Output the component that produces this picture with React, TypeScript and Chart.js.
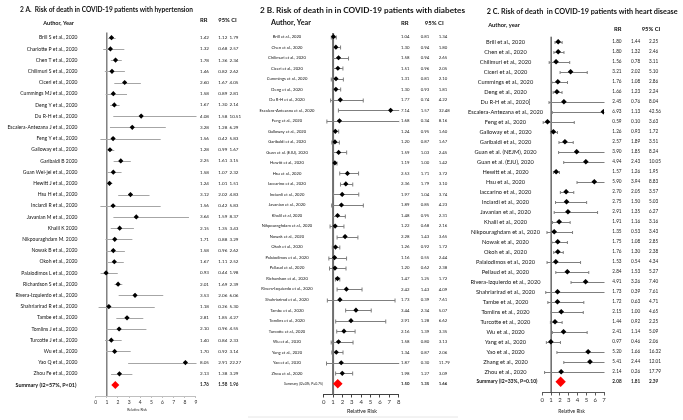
import React, { useEffect, useRef } from "react";
import { Chart, registerables } from "chart.js";
Chart.register(...registerables);

const FONT = "Lato, 'Liberation Sans', sans-serif";

// ---------- Panel A: hypertension ----------
const titleA = "2 A.  Risk of death in COVID-19 patients with hypertension";
const authorsA = [
  "Brill S et al., 2020", "Charlotte P et al., 2020", "Chen T et al., 2020", "Chilimuri S et al., 2020",
  "Ciceri et al., 2020", "Cummings MJ et al., 2020", "Deng Y et al., 2020", "Du R-H et al., 2020",
  "Escalera-Antezana J et al., 2020", "Feng Y et al., 2020", "Galloway et al., 2020", "Garibaldi B 2020",
  "Guan Wei-jei et al., 2020", "Hewitt J et al., 2020", "Hsu H et al., 2020", "Inciardi R et al., 2020",
  "Javanian M et al., 2020", "Khalil K 2020", "Nikpouraghdam M. 2020", "Nowak B et al., 2020",
  "Okoh et al., 2020", "Palaiodimos L et al., 2020", "Richardson S et al., 2020", "Rivera-Izquierdo et al., 2020",
  "Shahriarirad R et al., 2020", "Tambe et al., 2020", "Tomlins J et al., 2020", "Turcotte J et al., 2020",
  "Wu et al., 2020", "Yao Q et al., 2020", "Zhou Fe et al., 2020",
];
const rrA = [1.42, 1.32, 1.78, 1.46, 2.60, 1.58, 1.67, 4.08, 3.28, 1.56, 1.28, 2.25, 1.58, 1.24, 3.12, 1.56, 3.64, 2.15, 1.71, 1.58, 1.67, 0.93, 2.01, 3.53, 1.18, 2.81, 2.10, 1.40, 1.70, 8.05, 2.13];
const lowA = [1.12, 0.68, 1.36, 0.82, 1.67, 0.89, 1.30, 1.58, 1.28, 0.42, 0.99, 1.61, 1.07, 1.01, 2.02, 0.42, 1.59, 1.35, 0.88, 0.96, 1.11, 0.44, 1.69, 2.06, 0.26, 1.85, 0.96, 0.84, 0.92, 2.91, 1.38];
const highA = [1.79, 2.57, 2.34, 2.62, 4.05, 2.81, 2.14, 10.51, 6.29, 5.83, 1.67, 3.15, 2.32, 1.51, 4.83, 5.83, 8.37, 3.43, 3.29, 2.62, 2.52, 1.98, 2.39, 6.06, 5.30, 4.27, 4.55, 2.33, 3.14, 22.27, 3.29];
const summaryA = [1.76, 1.58, 1.96];
const summaryLabelA = "Summary (I2=57%, P<01)";
const xMaxA = 9;

// ---------- Panel B: diabetes ----------
const titleB = "2 B. Risk of death in in COVID-19 patients with diabetes";
const authorsB = [
  "Brill et al., 2020", "Chen et al., 2020", "Chilimuri et al., 2020", "Ciceri et al., 2020",
  "Cummings et al., 2020", "Deng et al., 2020", "Du R-H et al., 2020", "Escalera-Antezana et al., 2020",
  "Feng et al., 2020", "Galloway et al., 2020", "Garibaldi et al., 2020", "Guan et al. (EJU), 2020",
  "Hewitt et al., 2020", "Hsu et al., 2020", "Iaccarino et al., 2020", "Inciardi et al., 2020",
  "Javanian et al., 2020", "Khalil et al, 2020", "Nikpouraghdam et al., 2020", "Nowak et al., 2020",
  "Okoh et al., 2020", "Palaiodimos et al., 2020", "Pellaud et al., 2020", "Richardson et al., 2020",
  "Rivera-Izquierdo et al., 2020", "Shahriarirad et al., 2020", "Tambe et al., 2020", "Tomlins et al., 2020",
  "Turcotte et al., 2020", "Wu et al., 2020", "Yang et al., 2020", "Yao et al., 2020", "Zhou et al., 2020",
];
const rrB = [1.04, 1.30, 1.58, 1.51, 1.31, 1.30, 1.77, 7.14, 1.68, 1.24, 1.20, 1.59, 1.19, 2.53, 2.36, 1.97, 1.89, 1.48, 1.22, 2.28, 1.26, 1.16, 1.20, 1.47, 2.42, 1.73, 3.44, 2.91, 2.16, 1.58, 1.34, 1.87, 1.98];
const lowB = [0.81, 0.94, 0.94, 0.96, 0.81, 0.93, 0.74, 1.57, 0.34, 0.95, 0.87, 1.03, 1.00, 1.71, 1.79, 1.04, 0.85, 0.95, 0.68, 1.43, 0.92, 0.55, 0.62, 1.25, 1.43, 0.39, 2.34, 1.28, 1.39, 0.80, 0.87, 0.30, 1.27];
const highB = [1.34, 1.80, 2.65, 2.05, 2.10, 1.81, 4.22, 32.48, 8.16, 1.60, 1.67, 2.45, 1.42, 3.72, 3.10, 3.74, 4.23, 2.31, 2.16, 3.65, 1.72, 2.44, 2.38, 1.72, 4.09, 7.61, 5.07, 6.62, 3.35, 3.13, 2.06, 11.79, 3.09];
const summaryB = [1.50, 1.35, 1.66];
const summaryLabelB = "Summary (I2=0%, P=0.75)";
const xMaxB = 8;

// ---------- Panel C: heart disease ----------
const titleC = "2 C. Risk of death  in COVID-19 patients with heart disease";
const authorsC = [
  "Brill et al., 2020", "Chen et al., 2020", "Chilimuri et al., 2020", "Ciceri et al., 2020",
  "Cummings et al., 2020", "Deng et al., 2020", "Du R-H et al., 2020]", "Escalera-Antezana et al., 2020",
  "Feng et al., 2020", "Galloway et al., 2020", "Garibaldi et al., 2020", "Guan et al. (NEJM), 2020",
  "Guan et al. (EJU), 2020", "Hewitt et al., 2020", "Hsu et al., 2020", "Iaccarino et al., 2020",
  "Inciardi et al., 2020", "Javanian et al., 2020", "Khalil et al., 2020", "Nikpouraghdam et al., 2020",
  "Nowak et al., 2020", "Okoh et al., 2020", "Palaiodimos et al., 2020", "Pellaud et al., 2020",
  "Rivera-Izquierdo et al., 2020", "Shahriarirad et al., 2020", "Tambe et al., 2020", "Tomlins et al., 2020",
  "Turcotte et al., 2020", "Wu et al., 2020", "Yang et al., 2020", "Yao et al., 2020", "Zhang et al., 2020",
  "Zhou et al., 2020",
];
const rrC = [1.80, 1.80, 1.56, 3.21, 1.76, 1.66, 2.45, 6.93, 0.59, 1.26, 2.57, 3.90, 4.94, 1.57, 5.90, 2.70, 2.75, 2.91, 1.91, 1.35, 1.75, 1.76, 1.53, 2.84, 4.91, 1.73, 1.72, 2.15, 1.44, 2.41, 0.97, 5.20, 5.41, 2.14];
const lowC = [1.44, 1.32, 0.78, 2.02, 1.08, 1.23, 0.76, 1.13, 0.10, 0.93, 1.89, 1.85, 2.43, 1.26, 3.94, 2.05, 1.50, 1.35, 1.16, 0.53, 1.08, 1.30, 0.54, 1.53, 3.26, 0.39, 0.63, 1.00, 0.92, 1.14, 0.46, 1.66, 2.44, 0.26];
const highC = [2.25, 2.46, 3.11, 5.10, 2.86, 2.24, 8.04, 42.56, 3.63, 1.72, 3.51, 8.24, 10.05, 1.95, 8.83, 3.57, 5.03, 6.27, 3.16, 3.43, 2.85, 2.38, 4.34, 5.27, 7.40, 7.61, 4.71, 4.65, 2.25, 5.09, 2.06, 16.32, 12.01, 17.79];
const summaryC = [2.08, 1.81, 2.39];
const summaryLabelC = "Summary (I2=33%, P=0.10)";
const xMaxC = 7;

const axisTitle = "Relative Risk";
const headerRR = "RR";
const headerCI = "95% CI";

type Panel = {
  title: string; authorHeader: string; authors: string[]; rr: number[]; low: number[]; high: number[];
  summary: number[]; summaryLabel: string; xMax: number;
};

type Layout = {
  plotLeft: number; plotRight: number; plotTop: number; row0Y: number; summaryY: number; axisY: number;
  titleX: number; titleY: number; titleW: number;
  headX: number; headY: number; headW: number;
  rrHeadX: number; ciHeadX: number; colHeadY: number; rrHeadW: number;
  labelX: number; labelAlign: CanvasTextAlign; labelRef: string; labelRefW: number;
  sumX: number; sumAlign: CanvasTextAlign; sumW: number; sumBold: boolean;
  colX: number[]; valRefW: number; sumValBold: boolean;
  tickSize: number; tickLen: number; axisColor: string;
  rrTitleX: number; rrTitleY: number; rrTitleW: number;
  refColor: string; refWidth: number; barColor: string; cap: number;
  dotR: number; sumR: number;
  extraLine?: number[];
};

const BASE = 40;

function fitScale(ctx: CanvasRenderingContext2D, text: string, weight: string, target: number) {
  ctx.font = `${weight} ${BASE}px ${FONT}`;
  return target / ctx.measureText(text).width;
}

function drawText(ctx: CanvasRenderingContext2D, text: string, x: number, y: number, weight: string, k: number, align: CanvasTextAlign) {
  ctx.save();
  ctx.translate(x, y);
  ctx.scale(k, k);
  ctx.font = `${weight} ${BASE}px ${FONT}`;
  ctx.textAlign = align;
  ctx.textBaseline = "middle";
  ctx.fillText(text, 0, 0);
  ctx.restore();
}

function makePlugin(P: Panel, L: Layout) {
  return {
    id: "forest",
    beforeDatasetsDraw(chart: any) {
      const ctx: CanvasRenderingContext2D = chart.ctx;
      const xs = chart.scales.x;
      const ys = chart.scales.y;
      const a = chart.chartArea;
      ctx.save();
      const x1 = xs.getPixelForValue(1);
      ctx.strokeStyle = L.refColor;
      ctx.lineWidth = L.refWidth;
      ctx.beginPath();
      ctx.moveTo(x1, a.top);
      ctx.lineTo(x1, a.bottom);
      ctx.stroke();
      ctx.beginPath();
      ctx.rect(a.left - 0.5, 0, a.right - a.left + 1, chart.height);
      ctx.clip();
      ctx.strokeStyle = L.barColor;
      ctx.lineWidth = 1;
      for (let i = 0; i < P.rr.length; i++) {
        const y = Math.round(ys.getPixelForValue(i)) + 0.5;
        const xl = xs.getPixelForValue(P.low[i]);
        const xh = xs.getPixelForValue(P.high[i]);
        ctx.beginPath();
        ctx.moveTo(xl, y);
        ctx.lineTo(xh, y);
        if (L.cap > 0) {
          ctx.moveTo(xl, y - L.cap);
          ctx.lineTo(xl, y + L.cap);
          ctx.moveTo(xh, y - L.cap);
          ctx.lineTo(xh, y + L.cap);
        }
        ctx.stroke();
      }
      ctx.restore();
    },
    afterDraw(chart: any) {
      const ctx: CanvasRenderingContext2D = chart.ctx;
      const ys = chart.scales.y;
      const n = P.rr.length;
      ctx.save();
      ctx.fillStyle = "#111";
      let k = fitScale(ctx, P.title, "bold", L.titleW);
      drawText(ctx, P.title, L.titleX, L.titleY, "bold", k, "left");
      k = fitScale(ctx, P.authorHeader, "bold", L.headW);
      drawText(ctx, P.authorHeader, L.headX, L.headY, "bold", k, "center");
      k = fitScale(ctx, headerRR, "bold", L.rrHeadW);
      drawText(ctx, headerRR, L.rrHeadX, L.colHeadY, "bold", k, "left");
      drawText(ctx, headerCI, L.ciHeadX, L.colHeadY, "bold", k, "left");
      k = fitScale(ctx, L.labelRef, "normal", L.labelRefW);
      for (let i = 0; i < n; i++) {
        drawText(ctx, P.authors[i], L.labelX, ys.getPixelForValue(i), "normal", k, L.labelAlign);
      }
      const sw = L.sumBold ? "bold" : "normal";
      k = fitScale(ctx, P.summaryLabel, sw, L.sumW);
      drawText(ctx, P.summaryLabel, L.sumX, ys.getPixelForValue(n), sw, k, L.sumAlign);
      ctx.fillStyle = "#222";
      const kv = fitScale(ctx, "1.42", "normal", L.valRefW);
      for (let i = 0; i < n; i++) {
        const y = ys.getPixelForValue(i);
        [P.rr[i], P.low[i], P.high[i]].forEach((v, j) => drawText(ctx, v.toFixed(2), L.colX[j], y, "normal", kv, "left"));
      }
      const svw = L.sumValBold ? "bold" : "normal";
      P.summary.forEach((v, j) => drawText(ctx, v.toFixed(2), L.colX[j], ys.getPixelForValue(n), svw, kv, "left"));
      k = fitScale(ctx, axisTitle, "normal", L.rrTitleW);
      drawText(ctx, axisTitle, L.rrTitleX, L.rrTitleY, "normal", k, "center");
      if (L.extraLine) {
        ctx.strokeStyle = "#e6e6e6";
        ctx.lineWidth = 1;
        ctx.beginPath();
        ctx.moveTo(L.extraLine[0], L.extraLine[2] + 0.5);
        ctx.lineTo(L.extraLine[1], L.extraLine[2] + 0.5);
        ctx.stroke();
      }
      ctx.restore();
    },
  };
}

function buildConfig(P: Panel, L: Layout): any {
  const n = P.rr.length;
  const step = (L.summaryY - L.row0Y) / n;
  const yMin = -(L.row0Y - L.plotTop) / step;
  const yMax = n + (L.axisY - L.summaryY) / step;
  return {
    type: "scatter",
    data: {
      datasets: [
        {
          data: P.rr.map((v, i) => ({ x: v, y: i })),
          pointStyle: "rectRot",
          pointRadius: L.dotR,
          backgroundColor: "#000",
          borderColor: "#000",
          borderWidth: 0,
        },
        {
          data: [{ x: P.summary[0], y: n }],
          pointStyle: "rectRot",
          pointRadius: L.sumR,
          backgroundColor: "#ff0000",
          borderColor: "#ff0000",
          borderWidth: 0,
        },
      ],
    },
    options: {
      responsive: false,
      animation: false,
      events: [],
      layout: { padding: { left: L.plotLeft, right: 683 - L.plotRight, top: L.plotTop, bottom: 0 } },
      plugins: { legend: { display: false }, tooltip: { enabled: false } },
      scales: {
        x: {
          type: "linear",
          min: 0,
          max: P.xMax,
          afterFit: (scale: any) => {
            scale.height = 420 - L.axisY;
          },
          ticks: {
            stepSize: 1,
            autoSkip: false,
            maxRotation: 0,
            padding: 1,
            color: "#333",
            font: { size: L.tickSize, family: FONT },
          },
          grid: { display: true, drawOnChartArea: false, drawTicks: true, tickLength: L.tickLen, color: L.axisColor },
          border: { display: true, color: L.axisColor, width: 1 },
        },
        y: { type: "linear", min: yMin, max: yMax, reverse: true, display: false },
      },
    },
    plugins: [makePlugin(P, L)],
  };
}

const panelA: Panel = { title: titleA, authorHeader: "Author, Year", authors: authorsA, rr: rrA, low: lowA, high: highA, summary: summaryA, summaryLabel: summaryLabelA, xMax: xMaxA };
const panelB: Panel = { title: titleB, authorHeader: "Author, Year", authors: authorsB, rr: rrB, low: lowB, high: highB, summary: summaryB, summaryLabel: summaryLabelB, xMax: xMaxB };
const panelC: Panel = { title: titleC, authorHeader: "Author, year", authors: authorsC, rr: rrC, low: lowC, high: highC, summary: summaryC, summaryLabel: summaryLabelC, xMax: xMaxC };

const layoutA: Layout = {
  plotLeft: 95.7, plotRight: 196, plotTop: 32.5, row0Y: 37.7, summaryY: 385, axisY: 396,
  titleX: 20, titleY: 10, titleW: 173,
  headX: 58.5, headY: 23, headW: 30.5,
  rrHeadX: 200, ciHeadX: 218.3, colHeadY: 20, rrHeadW: 7.5,
  labelX: 77.5, labelAlign: "right", labelRef: "Escalera-Antezana J et al., 2020", labelRefW: 70,
  sumX: 76.5, sumAlign: "right", sumW: 61, sumBold: true,
  colX: [200, 218.3, 229.5], valRefW: 9, sumValBold: true,
  tickSize: 5, tickLen: 2, axisColor: "#bfbfbf",
  rrTitleX: 137, rrTitleY: 410, rrTitleW: 19.5,
  refColor: "#404040", refWidth: 1, barColor: "#a6a6a6", cap: 0,
  dotR: 2.6, sumR: 4,
};

const layoutB: Layout = {
  plotLeft: 323.7, plotRight: 398.7, plotTop: 33, row0Y: 36.7, summaryY: 383.8, axisY: 394.5,
  titleX: 260, titleY: 10, titleW: 205,
  headX: 291, headY: 23, headW: 40,
  rrHeadX: 401, ciHeadX: 424.7, colHeadY: 22.7, rrHeadW: 7.7,
  labelX: 287, labelAlign: "center", labelRef: "Escalera-Antezana et al., 2020", labelRefW: 55,
  sumX: 303.5, sumAlign: "center", sumW: 39, sumBold: false,
  colX: [401, 420.7, 438.7], valRefW: 8.5, sumValBold: true,
  tickSize: 6, tickLen: 3, axisColor: "#404040",
  rrTitleX: 362, rrTitleY: 411.7, rrTitleW: 30,
  refColor: "#6e6e6e", refWidth: 2, barColor: "#7f7f7f", cap: 2,
  dotR: 2.6, sumR: 4.8,
  extraLine: [248, 458, 416.5],
};

const layoutC: Layout = {
  plotLeft: 542.3, plotRight: 604, plotTop: 36.7, row0Y: 41.7, summaryY: 381.7, axisY: 392.5,
  titleX: 486.7, titleY: 11.7, titleW: 191,
  headX: 504, headY: 25, headW: 31.7,
  rrHeadX: 614, ciHeadX: 641.7, colHeadY: 29, rrHeadW: 7.5,
  labelX: 505.5, labelAlign: "center", labelRef: "Escalera-Antezana et al., 2020", labelRefW: 75,
  sumX: 507, sumAlign: "center", sumW: 61, sumBold: true,
  colX: [612.3, 631, 649], valRefW: 9.3, sumValBold: true,
  tickSize: 6, tickLen: 3, axisColor: "#595959",
  rrTitleX: 571.7, rrTitleY: 411.7, rrTitleW: 26.7,
  refColor: "#1a1a1a", refWidth: 1, barColor: "#7f7f7f", cap: 1.5,
  dotR: 2.8, sumR: 5.2,
};

function ForestCanvas({ panel, layout }: { panel: Panel; layout: Layout }) {
  const ref = useRef<HTMLCanvasElement | null>(null);
  useEffect(() => {
    if (!ref.current) return;
    const chart = new Chart(ref.current, buildConfig(panel, layout));
    return () => chart.destroy();
  }, [panel, layout]);
  return (
    <canvas
      ref={ref}
      width={683}
      height={420}
      style={{ position: "absolute", left: 0, top: 0, width: 683, height: 420 }}
    />
  );
}

export default function App() {
  return (
    <div style={{ position: "fixed", left: 0, top: 0, width: 683, height: 420, background: "#fff", overflow: "hidden" }}>
      <ForestCanvas panel={panelA} layout={layoutA} />
      <ForestCanvas panel={panelB} layout={layoutB} />
      <ForestCanvas panel={panelC} layout={layoutC} />
    </div>
  );
}
